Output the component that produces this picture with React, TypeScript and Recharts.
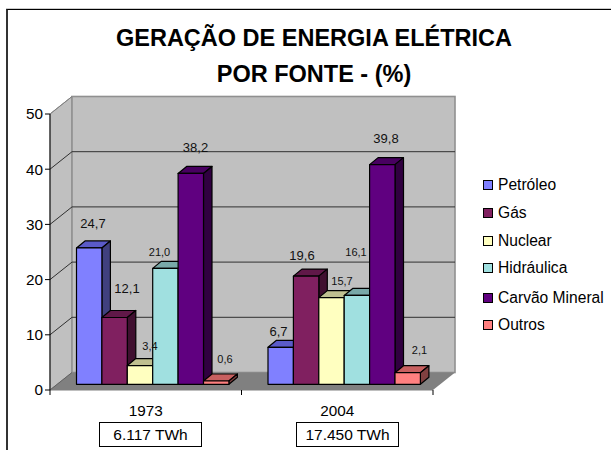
import { Bar, BarChart, CartesianGrid, LabelList, Legend, ReferenceArea, XAxis, YAxis } from 'recharts';

const years = ['1973', '2004'];
const totals = ['6.117 TWh', '17.450 TWh'];
const petroleo = [24.7, 6.7];
const gas = [12.1, 19.6];
const nuclear = [3.4, 15.7];
const hidraulica = [21.0, 16.1];
const carvao = [38.2, 39.8];
const outros = [0.6, 2.1];

const chartData = years.map((year, i) => ({
  year,
  petroleo: petroleo[i],
  gas: gas[i],
  nuclear: nuclear[i],
  hidraulica: hidraulica[i],
  carvao: carvao[i],
  outros: outros[i],
}));

// bars stand a bit behind the axis plane, then have a small depth of their own
const BAR_DX = 6.5;
const BAR_DY = 5.7;
const DEPTH_X = 8.5;
const DEPTH_Y = 7;
const WALL_DX = 22;
const WALL_DY = 17.5;
const AXIS_FONT = 15.3;
const BAND = 191.5;

const series = [
  { key: 'petroleo', name: 'Petróleo', color: '#8080ff', top: '#5a5ac8', side: '#40407f', legendY: 185,
    labels: [{ x: 93, y: 223, size: 13 }, { x: 278.5, y: 331, size: 13 }] },
  { key: 'gas', name: 'Gás', color: '#802060', top: '#601848', side: '#401030', legendY: 212.7,
    labels: [{ x: 127, y: 288, size: 13 }, { x: 302, y: 255, size: 13 }] },
  { key: 'nuclear', name: 'Nuclear', color: '#ffffc0', top: '#c0c090', side: '#808060', legendY: 240.7,
    labels: [{ x: 150, y: 346, size: 11 }, { x: 342, y: 281, size: 11 }] },
  { key: 'hidraulica', name: 'Hidráulica', color: '#a0e0e0', top: '#78a8a8', side: '#507070', legendY: 268.3,
    labels: [{ x: 159.5, y: 252, size: 11 }, { x: 356, y: 252, size: 11 }] },
  { key: 'carvao', name: 'Carvão Mineral', color: '#600080', top: '#480060', side: '#300040', legendY: 298,
    labels: [{ x: 195.5, y: 147, size: 13 }, { x: 386, y: 138, size: 13 }] },
  { key: 'outros', name: 'Outros', color: '#ff8080', top: '#c86060', side: '#804040', legendY: 325,
    labels: [{ x: 225, y: 359, size: 11 }, { x: 419.5, y: 350, size: 11 }] },
];

function Bar3D(props: any) {
  const { x, y, width, height, color, top, side } = props;
  const l = x + BAR_DX;
  const r = l + width;
  const t = y - BAR_DY;
  const b = t + height;
  return (
    <g stroke="#000" strokeWidth={1.2} strokeLinejoin="round">
      <polygon points={`${l},${t} ${l + DEPTH_X},${t - DEPTH_Y} ${r + DEPTH_X},${t - DEPTH_Y} ${r},${t}`} fill={top} />
      <polygon points={`${r},${t} ${r + DEPTH_X},${t - DEPTH_Y} ${r + DEPTH_X},${b - DEPTH_Y} ${r},${b}`} fill={side} />
      <rect x={l} y={t} width={width} height={height} fill={color} />
    </g>
  );
}

function Walls(props: any) {
  const { x, y, width, height } = props;
  const b = y + height;
  const r = x + width;
  const bx = x + WALL_DX;
  const by = y - WALL_DY;
  const bb = b - WALL_DY;
  const br = r + WALL_DX;
  return (
    <g>
      <polygon points={`${x},${y} ${bx},${by} ${bx},${bb} ${x},${b}`} fill="#c0c0c0" stroke="#909090" strokeWidth={1} />
      <rect x={bx} y={by} width={width} height={height} fill="#c0c0c0" stroke="#909090" strokeWidth={1.6} />
      <polygon points={`${x},${b} ${bx},${bb} ${br},${bb} ${r},${b}`} fill="#808080" />
    </g>
  );
}

function GridLine(props: any) {
  const { x1, x2, y1, index } = props;
  // the first and last lines are the floor edge and the top of the wall
  const isFloor = y1 > 380;
  const isTop = y1 < 120;
  if (isFloor) {
    return <line key={index} x1={x1} y1={y1} x2={x1 + WALL_DX} y2={y1 - WALL_DY} stroke="#606060" />;
  }
  return (
    <g key={index}>
      <line x1={x1} y1={y1} x2={x1 + WALL_DX} y2={y1 - WALL_DY} stroke={isTop ? '#808080' : '#303030'} />
      {!isTop && <line x1={x1 + WALL_DX} y1={y1 - WALL_DY} x2={x2 + WALL_DX} y2={y1 - WALL_DY} stroke="#303030" />}
    </g>
  );
}

function YearTick(props: any) {
  const { x, y, payload } = props;
  const half = BAND / 2;
  return (
    <g>
      <line x1={x - half} y1={y - 8} x2={x - half} y2={y - 3} stroke="#000" />
      <line x1={x + half} y1={y - 8} x2={x + half} y2={y - 3} stroke="#000" />
      <text x={x} y={y + 18} textAnchor="middle" fontSize={AXIS_FONT} fill="#000">{payload.value}</text>
    </g>
  );
}

function PointLabel(props: any) {
  const { index, value, labels } = props;
  const spot = labels[index];
  return (
    <text x={spot.x} y={spot.y} dy="0.36em" textAnchor="middle" fontSize={spot.size} fill="#111">
      {Number(value).toFixed(1).replace('.', ',')}
    </text>
  );
}

function LegendBox() {
  return (
    <>
      {series.map(s => (
        <div key={s.key} style={{ position: 'absolute', left: 0, top: s.legendY - 10, height: 20, lineHeight: '20px', whiteSpace: 'nowrap', fontSize: 15.6, color: '#000' }}>
          <span style={{ position: 'absolute', left: 0, top: 5, width: 8, height: 8, background: s.color, border: '1px solid #000' }} />
          <span style={{ position: 'absolute', left: 15 }}>{s.name}</span>
        </div>
      ))}
    </>
  );
}

const titleStyle: React.CSSProperties = {
  position: 'absolute',
  left: 0,
  width: 628,
  textAlign: 'center',
  fontWeight: 700,
  fontSize: 23.5,
  lineHeight: '26px',
  color: '#000',
  whiteSpace: 'nowrap',
};

const totalStyle: React.CSSProperties = {
  position: 'absolute',
  top: 422,
  width: 101,
  height: 23,
  border: '1px solid #000',
  textAlign: 'center',
  lineHeight: '23px',
  fontSize: 15.5,
  color: '#000',
  background: '#fff',
};

export default function App() {
  return (
    <div style={{ position: 'absolute', left: 0, top: 0, width: 611, height: 450, overflow: 'hidden', background: '#fff', fontFamily: '"Liberation Sans", Arial, sans-serif' }}>
      <div style={{ position: 'absolute', left: 6, top: 9, width: 700, height: 500, borderLeft: '2px solid #333', borderTop: '1px solid #000', boxShadow: '0 -1px 0 #ccc' }} />
      <div style={{ ...titleStyle, top: 25 }}>GERAÇÃO DE ENERGIA ELÉTRICA</div>
      <div style={{ ...titleStyle, top: 61 }}>POR FONTE - (%)</div>
      <BarChart
        width={611}
        height={450}
        data={chartData}
        margin={{ top: 114, right: 178, bottom: 0, left: 0 }}
        barSize={25.4}
        barGap={0}
        style={{ position: 'absolute', left: 0, top: 0, fontFamily: '"Liberation Sans", Arial, sans-serif' }}
      >
        <ReferenceArea y1={0} y2={50} shape={<Walls />} ifOverflow="visible" zIndex={-200} />
        <CartesianGrid vertical={false} horizontal={(p: any) => <GridLine {...p} />} />
        <XAxis dataKey="year" height={60} tickLine={false} axisLine={{ stroke: '#808080' }} tick={<YearTick />} interval={0} />
        <YAxis width={50} domain={[0, 50]} ticks={[0, 10, 20, 30, 40, 50]} tickSize={5} axisLine={{ stroke: '#000' }} tickLine={{ stroke: '#000' }} tick={{ fontSize: AXIS_FONT, fill: '#000' }} />
        <Legend content={() => null} />
        {series.map(s => (
          <Bar
            key={s.key}
            dataKey={s.key}
            name={s.name}
            isAnimationActive={false}
            shape={(p: any) => <Bar3D {...p} color={s.color} top={s.top} side={s.side} />}
          >
            <LabelList dataKey={s.key} content={(p: any) => <PointLabel {...p} labels={s.labels} />} />
          </Bar>
        ))}
      </BarChart>
      <div style={{ position: 'absolute', left: 483, top: 0 }}>
        <LegendBox />
      </div>
      <div style={{ ...totalStyle, left: 99 }}>{totals[0]}</div>
      <div style={{ ...totalStyle, left: 296 }}>{totals[1]}</div>
    </div>
  );
}
